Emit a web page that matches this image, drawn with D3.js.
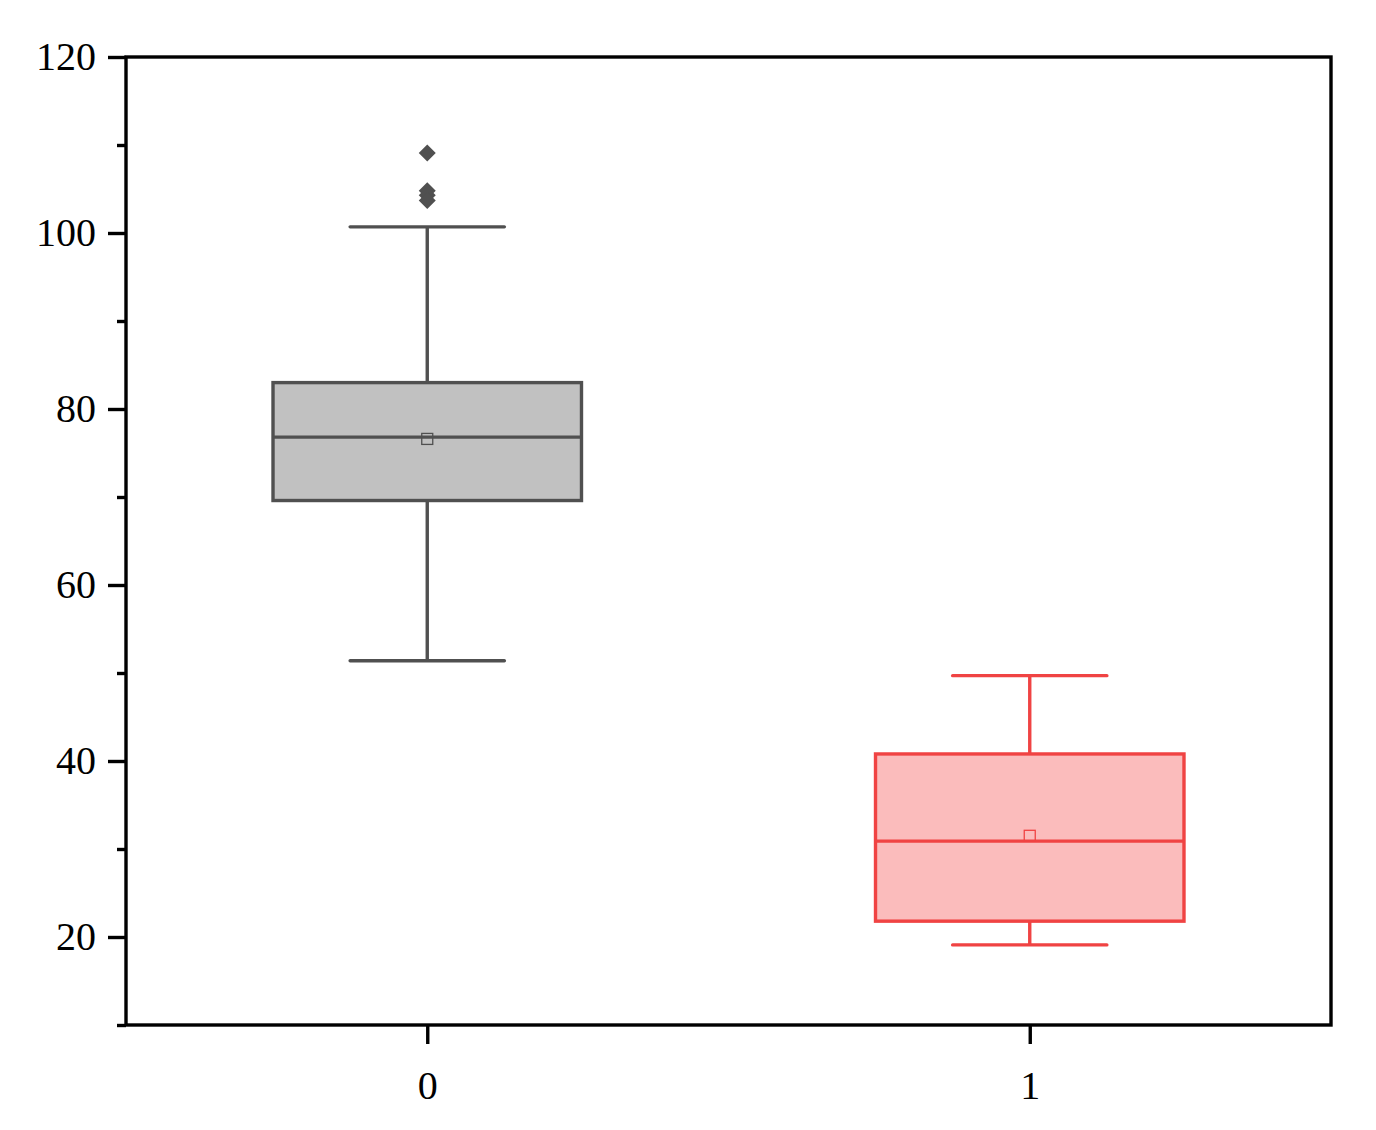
<!DOCTYPE html>
<html>
<head>
<meta charset="utf-8">
<script src="https://cdn.jsdelivr.net/npm/d3@7"></script>
<style>
  body { margin: 0; background: #fff; }
  svg { display: block; }
</style>
</head>
<body>
<div id="chart"></div>
<script>
// data
var groups = ["0", "1"];
var mins = [51.4, 19.1];
var q1s = [69.6, 21.8];
var medians = [76.8, 30.9];
var means = [76.6, 31.5];
var q3s = [83.0, 40.8];
var maxs = [100.7, 49.7];
var outliers = [[109.1, 104.8, 104.3, 103.7], []];
var yMajor = [20, 40, 60, 80, 100, 120];
var yMinor = [10, 30, 50, 70, 90, 110];

var strokes = ["#505050", "#f04343"];
var fills = ["#c1c1c1", "#fbbcbc"];

var W = 1376, H = 1130;
// plot edges (note: "top" is reserved on window, so use p* names)
var pLeft = 126, pRight = 1331, pTop = 57, pBottom = 1025;
var lw = 3.4;

var svg = d3.select("#chart").append("svg")
  .attr("width", W)
  .attr("height", H);

svg.append("rect").attr("width", W).attr("height", H).attr("fill", "#fff");

var x = d3.scalePoint().domain(groups).range([pLeft, pRight]).padding(0.5);
var y = d3.scaleLinear().domain([10, 120]).range([pBottom, pTop]);

var boxW = x.step() * 0.512;
var capW = boxW / 2;

var boxes = groups.map(function(g, i){
  return {g: g, min: mins[i], q1: q1s[i], med: medians[i], mean: means[i],
          q3: q3s[i], max: maxs[i], out: outliers[i], stroke: strokes[i], fill: fills[i]};
});

var bg = svg.selectAll("g.box").data(boxes).enter().append("g").attr("class", "box");

// whiskers
bg.append("line")
  .attr("x1", function(d){ return x(d.g); })
  .attr("x2", function(d){ return x(d.g); })
  .attr("y1", function(d){ return y(d.max); })
  .attr("y2", function(d){ return y(d.q3); })
  .attr("stroke", function(d){ return d.stroke; })
  .attr("stroke-width", lw);
bg.append("line")
  .attr("x1", function(d){ return x(d.g); })
  .attr("x2", function(d){ return x(d.g); })
  .attr("y1", function(d){ return y(d.q1); })
  .attr("y2", function(d){ return y(d.min); })
  .attr("stroke", function(d){ return d.stroke; })
  .attr("stroke-width", lw);
// caps
["max", "min"].forEach(function(k){
  bg.append("line")
    .attr("x1", function(d){ return x(d.g) - capW / 2; })
    .attr("x2", function(d){ return x(d.g) + capW / 2; })
    .attr("y1", function(d){ return y(d[k]); })
    .attr("y2", function(d){ return y(d[k]); })
    .attr("stroke", function(d){ return d.stroke; })
    .attr("stroke-width", lw)
    .attr("stroke-linecap", "round");
});

// box
bg.append("rect")
  .attr("x", function(d){ return x(d.g) - boxW / 2; })
  .attr("y", function(d){ return y(d.q3); })
  .attr("width", boxW)
  .attr("height", function(d){ return y(d.q1) - y(d.q3); })
  .attr("fill", function(d){ return d.fill; })
  .attr("stroke", function(d){ return d.stroke; })
  .attr("stroke-width", lw);

// median
bg.append("line")
  .attr("x1", function(d){ return x(d.g) - boxW / 2; })
  .attr("x2", function(d){ return x(d.g) + boxW / 2; })
  .attr("y1", function(d){ return y(d.med); })
  .attr("y2", function(d){ return y(d.med); })
  .attr("stroke", function(d){ return d.stroke; })
  .attr("stroke-width", lw);

// mean square
bg.append("rect")
  .attr("x", function(d){ return x(d.g) - 5.5; })
  .attr("y", function(d){ return y(d.mean) - 5.5; })
  .attr("width", 11)
  .attr("height", 11)
  .attr("fill", "none")
  .attr("stroke", function(d){ return d.stroke; })
  .attr("stroke-width", 1.3);

// outliers
bg.selectAll("path.out").data(function(d){
    return d.out.map(function(v){ return {g: d.g, v: v, stroke: d.stroke}; });
  })
  .enter().append("path")
  .attr("class", "out")
  .attr("d", "M0,-8.5L8.5,0L0,8.5L-8.5,0Z")
  .attr("transform", function(d){ return "translate(" + x(d.g) + "," + y(d.v) + ")"; })
  .attr("fill", function(d){ return d.stroke; });

// frame
svg.append("rect")
  .attr("x", pLeft).attr("y", pTop)
  .attr("width", pRight - pLeft).attr("height", pBottom - pTop)
  .attr("fill", "none")
  .attr("stroke", "#000")
  .attr("stroke-width", lw);

// axes
var font = "'Liberation Serif', 'Times New Roman', serif";

var yAx = svg.append("g")
  .attr("transform", "translate(" + pLeft + ",0)")
  .call(d3.axisLeft(y).tickValues(yMajor).tickSize(18).tickPadding(12).tickFormat(d3.format("d")));
var yMin = svg.append("g")
  .attr("transform", "translate(" + pLeft + ",0)")
  .call(d3.axisLeft(y).tickValues(yMinor).tickSize(9).tickFormat(""));
var xAx = svg.append("g")
  .attr("transform", "translate(0," + pBottom + ")")
  .call(d3.axisBottom(x).tickSize(19).tickPadding(27));

[yAx, yMin, xAx].forEach(function(a){
  a.select(".domain").remove();
  a.selectAll(".tick line").attr("stroke", "#000").attr("stroke-width", lw);
  a.selectAll(".tick text")
    .attr("fill", "#000")
    .style("font-family", font)
    .style("font-size", "40px");
});
</script>
</body>
</html>
